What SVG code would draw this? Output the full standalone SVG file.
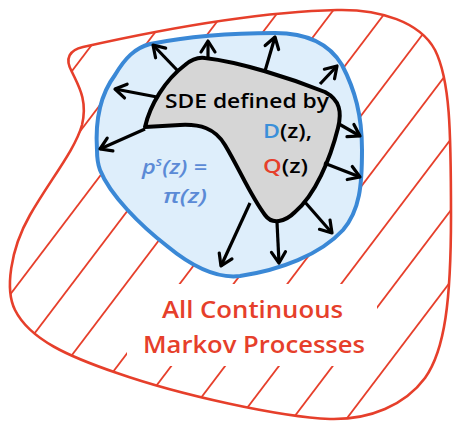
<svg xmlns="http://www.w3.org/2000/svg" width="454" height="432" viewBox="0 0 454 432">
<style>
.outer{fill:none;stroke:#e63f2b;stroke-width:2.6}
.hatch line{stroke:#e63f2b;stroke-width:1.8}
.region{fill:#deeefb;stroke:#3a88d6;stroke-width:4}
.sde{fill:#d6d6d6;stroke:#000;stroke-width:4;stroke-linejoin:round}
.arr{stroke:#000;stroke-width:3.2;fill:none;marker-end:url(#ah)}
.t{font-family:"Open Sans","Liberation Sans",sans-serif;font-weight:600}
</style>
<defs>
<marker id="ah" markerUnits="userSpaceOnUse" markerWidth="30" markerHeight="30" viewBox="-15 -15 30 30" refX="0" refY="0" orient="auto">
<path d="M-11,-7 L0,0 L-11,7" fill="none" stroke="#000" stroke-width="3.2" stroke-linecap="round" stroke-linejoin="round"/>
</marker>
<path id="outerPath" d="M83,47 C150,32 250,12 337,10 C380,9 420,22 435,50 C450,80 451,130 451,216 C451,300 445,350 425,378 C405,405 370,420 330,419 C280,417 180,395 117,373 C70,357 30,340 15,310 C5,290 10,250 30,215 C50,180 75,150 82,125 C88,100 78,85 72,72 C64,58 70,50 83,47 Z"/>
<clipPath id="clipOuter"><use href="#outerPath"/></clipPath>
</defs>
<g id="all-markov">
<use href="#outerPath" fill="#fff"/>
<g class="hatch" clip-path="url(#clipOuter)">
<line x1="0" y1="166" x2="454" y2="-433"/>
<line x1="0" y1="237" x2="454" y2="-362"/>
<line x1="0" y1="308" x2="454" y2="-291"/>
<line x1="0" y1="379" x2="454" y2="-220"/>
<line x1="0" y1="450" x2="454" y2="-149"/>
<line x1="0" y1="521" x2="454" y2="-78"/>
<line x1="0" y1="592" x2="454" y2="-7"/>
<line x1="0" y1="663" x2="454" y2="64"/>
<line x1="0" y1="734" x2="454" y2="135"/>
<line x1="0" y1="805" x2="454" y2="206"/>
<line x1="0" y1="876" x2="454" y2="277"/>
<line x1="0" y1="947" x2="454" y2="348"/>
</g>
<rect x="127" y="284" width="250" height="82" fill="#fff"/>
<use href="#outerPath" class="outer"/>
<text class="t" fill="#e63f2b" font-size="24" x="162" y="318" textLength="181" lengthAdjust="spacingAndGlyphs">All Continuous</text>
<text class="t" fill="#e63f2b" font-size="24" x="143" y="353" textLength="222" lengthAdjust="spacingAndGlyphs">Markov Processes</text>
</g>
<g id="stationary">
<path class="region" d="M97,150 C95,120 100,95 115,75 C125,58 135,48 150,44 C190,36 240,33 275,33 C310,33 330,45 342,65 C355,90 362,115 362,150 C362,185 360,210 343,230 C320,255 280,270 240,276 C215,279 190,265 167,246 C140,225 110,195 100,170 C97,162 97,156 97,150 Z"/>
<text class="t" fill="#5b8ad6" font-size="20" font-style="italic" x="142" y="174" textLength="65" lengthAdjust="spacingAndGlyphs">p<tspan font-size="12" dy="-8">s</tspan><tspan dy="8">(z) =</tspan></text>
<text class="t" fill="#5b8ad6" font-size="20" font-style="italic" x="163" y="203" textLength="44" lengthAdjust="spacingAndGlyphs">π(z)</text>
</g>
<g id="sde">
<path class="sde" d="M145,127 C150,105 165,80 185,65 C192,59 198,57 205,58 C240,62 290,78 325,92 C340,100 342,112 338,128 C330,160 315,195 295,212 C285,222 272,225 265,215 C250,195 240,170 225,145 C215,128 200,124 180,125 L145,127 Z"/>
<text class="t" fill="#000" font-size="19" x="165" y="108" textLength="164" lengthAdjust="spacingAndGlyphs">SDE defined by</text>
<text class="t" fill="#000" font-size="19" x="263" y="138" textLength="49" lengthAdjust="spacingAndGlyphs"><tspan fill="#3b8fd9">D</tspan>(z),</text>
<text class="t" fill="#000" font-size="19" x="263" y="173" textLength="45" lengthAdjust="spacingAndGlyphs"><tspan fill="#e63f2b">Q</tspan>(z)</text>
</g>
<g id="connectors">
<line class="arr" x1="177" y1="70" x2="153" y2="45"/>
<line class="arr" x1="208" y1="58" x2="208" y2="41"/>
<line class="arr" x1="265" y1="71" x2="275" y2="37"/>
<line class="arr" x1="320" y1="84" x2="337" y2="66"/>
<line class="arr" x1="339" y1="124" x2="360" y2="136"/>
<line class="arr" x1="324" y1="163" x2="360" y2="177"/>
<line class="arr" x1="304" y1="201" x2="332" y2="233"/>
<line class="arr" x1="277" y1="222" x2="279" y2="263"/>
<line class="arr" x1="250" y1="203" x2="221" y2="266"/>
<line class="arr" x1="157" y1="97" x2="115" y2="89"/>
<line class="arr" x1="145" y1="129" x2="100" y2="149"/>
</g>
</svg>
